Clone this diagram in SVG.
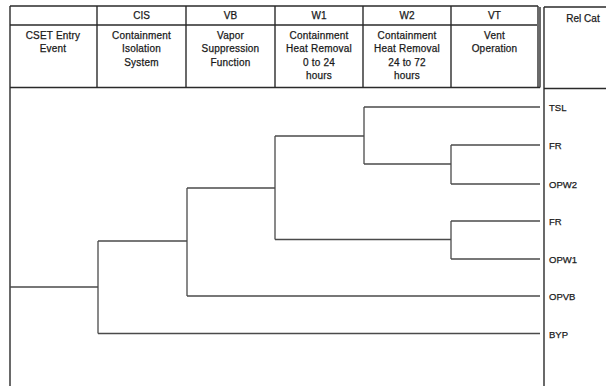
<svg xmlns="http://www.w3.org/2000/svg" width="606" height="386" viewBox="0 0 606 386">
  <style>
    .grid { stroke: #2a2a2a; stroke-width: 1.4; fill: none; }
    .branch { stroke: #4a4a4a; stroke-width: 1.3; fill: none; }
    text { font-family: "Liberation Sans", Arial, sans-serif; fill: #1a1a1a; stroke: #1a1a1a; stroke-width: 0.25px; }
    .hd { font-size: 10px; text-anchor: middle; }
    .sub { font-size: 10px; text-anchor: middle; letter-spacing: 0.2px; }
    .end { font-size: 9.5px; }
  </style>
  <rect width="606" height="386" fill="#ffffff"/>

  <!-- table frame -->
  <g id="frame" class="grid">
    <line x1="10" y1="6" x2="538" y2="6"/>
    <line x1="10" y1="25" x2="537" y2="25"/>
    <line x1="10" y1="87.5" x2="540" y2="87.5"/>
    <line x1="10" y1="6" x2="10" y2="386"/>
    <line x1="97" y1="6" x2="97" y2="87.5"/>
    <line x1="186" y1="6" x2="186" y2="87.5"/>
    <line x1="275" y1="6" x2="275" y2="87.5"/>
    <line x1="363" y1="6" x2="363" y2="87.5"/>
    <line x1="451" y1="6" x2="451" y2="87.5"/>
    <line x1="538" y1="6" x2="538" y2="87.5"/>
    <line x1="540" y1="7" x2="540" y2="87.5"/>
    <!-- release category column -->
    <line x1="544" y1="7" x2="606" y2="7"/>
    <line x1="544" y1="7" x2="544" y2="386"/>
    <line x1="544" y1="88.5" x2="606" y2="88.5"/>
  </g>

  <!-- column headings -->
  <g id="col-cset">
    <text class="sub" x="53" y="38.5">CSET Entry</text>
    <text class="sub" x="53" y="52">Event</text>
  </g>
  <g id="col-cis">
    <text class="hd" x="141.5" y="19.3">CIS</text>
    <text class="sub" x="141.5" y="38.5">Containment</text>
    <text class="sub" x="141.5" y="52">Isolation</text>
    <text class="sub" x="141.5" y="65.5">System</text>
  </g>
  <g id="col-vb">
    <text class="hd" x="230.5" y="19.3">VB</text>
    <text class="sub" x="230.5" y="38.5">Vapor</text>
    <text class="sub" x="230.5" y="52">Suppression</text>
    <text class="sub" x="230.5" y="65.5">Function</text>
  </g>
  <g id="col-w1">
    <text class="hd" x="319" y="19.3">W1</text>
    <text class="sub" x="319" y="38.5">Containment</text>
    <text class="sub" x="319" y="52">Heat Removal</text>
    <text class="sub" x="319" y="65.5">0 to 24</text>
    <text class="sub" x="319" y="79">hours</text>
  </g>
  <g id="col-w2">
    <text class="hd" x="407" y="19.3">W2</text>
    <text class="sub" x="407" y="38.5">Containment</text>
    <text class="sub" x="407" y="52">Heat Removal</text>
    <text class="sub" x="407" y="65.5">24 to 72</text>
    <text class="sub" x="407" y="79">hours</text>
  </g>
  <g id="col-vt">
    <text class="hd" x="494.5" y="19.3">VT</text>
    <text class="sub" x="494.5" y="38.5">Vent</text>
    <text class="sub" x="494.5" y="52">Operation</text>
  </g>
  <g id="col-relcat">
    <text class="hd" x="583" y="22">Rel Cat</text>
  </g>

  <!-- event tree branches -->
  <g id="connectors" class="branch">
    <!-- entry event -->
    <line x1="10" y1="287" x2="98" y2="287"/>
    <!-- CIS split -->
    <line x1="98" y1="241" x2="98" y2="333.5"/>
    <line x1="98" y1="241" x2="187" y2="241"/>
    <line x1="98" y1="333.5" x2="540" y2="333.5"/>
    <!-- VB split -->
    <line x1="187" y1="188" x2="187" y2="296"/>
    <line x1="187" y1="188" x2="275" y2="188"/>
    <line x1="187" y1="296" x2="540" y2="296"/>
    <!-- W1 split -->
    <line x1="275" y1="136" x2="275" y2="239.5"/>
    <line x1="275" y1="136" x2="364" y2="136"/>
    <line x1="275" y1="239.5" x2="451" y2="239.5"/>
    <!-- W2 split (upper) -->
    <line x1="364" y1="107" x2="364" y2="164"/>
    <line x1="364" y1="107" x2="540" y2="107"/>
    <line x1="364" y1="164" x2="451" y2="164"/>
    <!-- VT splits -->
    <line x1="451" y1="145" x2="451" y2="184"/>
    <line x1="451" y1="145" x2="540" y2="145"/>
    <line x1="451" y1="184" x2="540" y2="184"/>
    <line x1="451" y1="221" x2="451" y2="259"/>
    <line x1="451" y1="221" x2="540" y2="221"/>
    <line x1="451" y1="259" x2="540" y2="259"/>
  </g>

  <!-- release categories -->
  <g id="end-tsl"><text class="end" x="549" y="111">TSL</text></g>
  <g id="end-fr-1"><text class="end" x="549" y="149">FR</text></g>
  <g id="end-opw2"><text class="end" x="549" y="188">OPW2</text></g>
  <g id="end-fr-2"><text class="end" x="549" y="225">FR</text></g>
  <g id="end-opw1"><text class="end" x="549" y="263">OPW1</text></g>
  <g id="end-opvb"><text class="end" x="549" y="300">OPVB</text></g>
  <g id="end-byp"><text class="end" x="549" y="337.5">BYP</text></g>
</svg>
